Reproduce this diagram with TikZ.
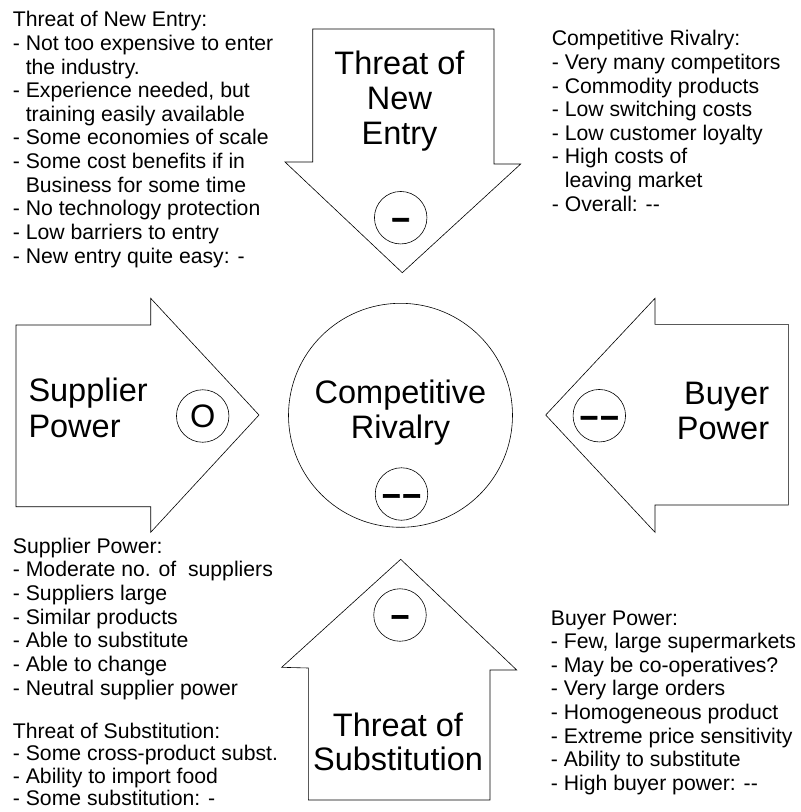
\documentclass[tikz,border=0pt]{standalone}
\usepackage{fontspec}
\setmainfont{Liberation Sans}
\newfontface\dashfont{Liberation Sans Bold}[FakeBold=2]
\tikzset{
  forceshape/.style={draw=black, line width=0.6pt, line join=miter, fill=white},
  listtext/.style={font=\fontsize{21.2}{23.65}\selectfont, anchor=base west, inner sep=0pt},
  bigtext/.style={font=\fontsize{32.5}{35}\selectfont, inner sep=0pt},
  ratingbase/.style={draw=black, circle, minimum size=52.5pt, inner sep=0pt, line width=0.6pt},
  dashcircle/.style={ratingbase, font=\fontsize{32.5}{35}\dashfont, text height=21.5pt, text depth=0pt},
  letcircle/.style={ratingbase, font=\fontsize{32.5}{35}\selectfont},
}
\newcommand{\ind}{\hspace*{12.9pt}}
\begin{document}
\begin{tikzpicture}[x=1pt,y=-1pt]
\useasboundingbox (0,0) rectangle (801,812);

% ---- force arrows ----
% Threat of new entry (down)
\draw[forceshape] (312.7,29) -- (494,29) -- (494,164) -- (520.7,164) -- (402.3,272.7) -- (285,162) -- (312.7,162) -- cycle;
% Supplier power (right)
\draw[forceshape] (16,325) -- (150.7,325) -- (150.7,298.3) -- (259,415) -- (150.7,532.3) -- (150.7,506.7) -- (16,506.7) -- cycle;
% Buyer power (left)
\draw[forceshape] (788.3,324.3) -- (655,324.3) -- (655,298.3) -- (545.7,415) -- (655,532.3) -- (655,505) -- (788.3,505) -- cycle;
% Threat of substitution (up)
\draw[forceshape] (400.7,559.3) -- (516.7,670) -- (490,670) -- (490,800) -- (308.3,800) -- (308.3,668) -- (281.7,667.3) -- cycle;

% ---- central circle ----
\node[draw=black, line width=0.6pt, circle, minimum size=224pt, inner sep=0pt] (rivalry) at (400.5,415.3) {};

% ---- big labels ----
\node[bigtext, anchor=base] (newentrylbl) at (399.5,74) {\begin{tabular}[t]{@{}c@{}}Threat of\\New\\Entry\end{tabular}};
\node[bigtext, anchor=base west] (supplierlbl) at (28.3,401.7) {\begin{tabular}[t]{@{}l@{}}Supplier\\[1pt]Power\end{tabular}};
\node[bigtext, anchor=base] (rivalrylbl) at (400.5,403.3) {\begin{tabular}[t]{@{}c@{}}Competitive\\Rivalry\end{tabular}};
\node[bigtext, anchor=base east] (buyerlbl) at (769.3,404.3) {\begin{tabular}[t]{@{}r@{}}Buyer\\Power\end{tabular}};
\node[bigtext, anchor=base, font=\fontsize{32.5}{33.5}\selectfont] (substlbl) at (398,736.7) {\begin{tabular}[t]{@{}c@{}}Threat of\\Substitution\end{tabular}};

% ---- rating circles ----
\node[dashcircle] (newentryrate) at (400.7,217.7) {–};
\node[letcircle] (supplierrate) at (202.7,416) {O};
\node[dashcircle] (rivalryrate) at (401.5,494) {–\kern2.5pt–};
\node[dashcircle] (buyerrate) at (599.3,415.7) {–\kern2.5pt–};
\node[dashcircle] (substrate) at (400,615) {–};

% ---- text lists ----
\node[listtext] (newentrytxt) at (12.7,26.7) {\begin{tabular}[t]{@{}l@{}}
Threat of New Entry:\\
- Not too expensive to enter\\
\ind the industry.\\
- Experience needed, but\\
\ind training easily available\\
- Some economies of scale\\
- Some cost benefits if in\\
\ind Business for some time\\
- No technology protection\\
- Low barriers to entry\\
- New entry quite easy: -
\end{tabular}};

\node[listtext] (rivalrytxt) at (551.7,45.7) {\begin{tabular}[t]{@{}l@{}}
Competitive Rivalry:\\
- Very many competitors\\
- Commodity products\\
- Low switching costs\\
- Low customer loyalty\\
- High costs of\\
\ind leaving market\\
- Overall: -{}-
\end{tabular}};

\node[listtext] (suppliertxt) at (12.7,553.3) {\begin{tabular}[t]{@{}l@{}}
Supplier Power:\\
- Moderate no. of\ \ suppliers\\
- Suppliers large\\
- Similar products\\
- Able to substitute\\
- Able to change\\
- Neutral supplier power
\end{tabular}};

\node[listtext, font=\fontsize{21.2}{22.6}\selectfont] (substtxt) at (12.7,738) {\vtop{%
\hbox{Threat of Substitution:}%
\hbox{- Some cross-product subst.}%
\hbox{- Ability to import food}%
\hbox{- Some substitution: -}}};

\node[listtext] (buyertxt) at (550.7,625) {\begin{tabular}[t]{@{}l@{}}
Buyer Power:\\
- Few, large supermarkets\\
- May be co-operatives?\\
- Very large orders\\
- Homogeneous product\\
- Extreme price sensitivity\\
- Ability to substitute\\
- High buyer power: -{}-
\end{tabular}};
\end{tikzpicture}
\end{document}
